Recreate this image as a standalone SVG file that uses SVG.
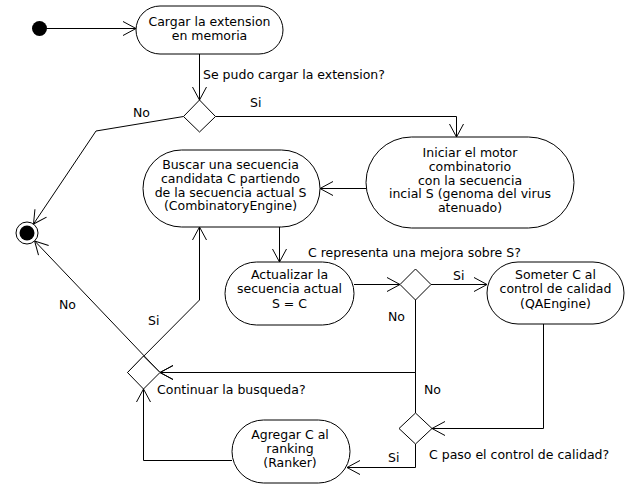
<svg xmlns="http://www.w3.org/2000/svg" width="638" height="503" viewBox="0 0 638 503">
<defs>
<marker id="arr" markerUnits="userSpaceOnUse" markerWidth="20" markerHeight="20" viewBox="-15 -10 20 20" refX="0" refY="0" orient="auto" overflow="visible">
<path d="M-13,-7 L0,0 L-13,7" fill="none" stroke="#000" stroke-width="1"/>
</marker>
</defs>
<style>
text{font-family:"DejaVu Sans","Liberation Sans",sans-serif;font-size:12.5px;fill:#000}
.c{text-anchor:middle}
.n{fill:#fff;stroke:#000;stroke-width:1}
.e{fill:none;stroke:#000;stroke-width:1;marker-end:url(#arr)}
</style>
<rect width="638" height="503" fill="#fff"/>
<g id="connectors">
<path class="e" d="M47,28.5 L136,28.5"/>
<path class="e" d="M199.5,54 L199.5,100"/>
<path class="e" d="M215.5,116.5 L456.5,116.5 L456.5,137"/>
<path class="e" d="M183.5,116.5 L96,131 L33.5,224"/>
<path class="e" d="M366,188.5 L320,188.5"/>
<path class="e" d="M279.5,227 L279.5,262"/>
<path class="e" d="M354,284.5 L400,284.5"/>
<path class="e" d="M431,284.5 L487,284.5"/>
<path class="e" d="M415.5,300 L415.5,372.5 L160,372.5"/>
<path class="e" d="M415.5,413 L415.5,372.5 L160,372.5"/>
<path class="e" d="M543.5,324 L543.5,428.5 L432,428.5"/>
<path class="e" d="M415.5,444 L415.5,467.5 L347,467.5"/>
<path class="e" d="M232,460.5 L143.5,460.5 L143.5,389"/>
<path class="e" d="M160,372.5 L34.6,240.9"/>
<path class="e" d="M127.5,372.5 L199.5,300 L199.5,227"/>
<text x="203" y="79">Se pudo cargar la extension?</text>
<text x="250" y="107">Si</text>
<text x="133" y="117">No</text>
<text x="308" y="256.5">C representa una mejora sobre S?</text>
<text x="453" y="280">Si</text>
<text x="388" y="321">No</text>
<text x="424" y="394">No</text>
<text x="157" y="394">Continuar la busqueda?</text>
<text x="429" y="459">C paso el control de calidad?</text>
<text x="388" y="462">Si</text>
<text x="59" y="309">No</text>
<text x="148" y="325">Si</text>
</g>
<g id="start"><circle cx="39.5" cy="28.5" r="7.5" fill="#000"/></g>
<g id="end"><circle cx="27" cy="233" r="11" fill="#fff" stroke="#000"/><circle cx="27" cy="233" r="7.5" fill="#000"/></g>
<g id="cargar"><rect class="n" x="136" y="6" width="147" height="48" rx="24"/>
<text class="c" x="209.5" y="26">Cargar la extension</text><text class="c" x="209.5" y="39.5">en memoria</text></g>
<g id="d1"><polygon class="n" points="199.5,100 215.5,116.5 199.5,132 183.5,116.5"/></g>
<g id="iniciar"><rect class="n" x="366" y="137" width="208" height="91" rx="45.5"/>
<text class="c" x="470" y="157.3">Iniciar el motor</text>
<text class="c" x="470" y="171">combinatorio</text>
<text class="c" x="470" y="184.6">con la secuencia</text>
<text class="c" x="470" y="198.2">incial S (genoma del virus</text>
<text class="c" x="470" y="211.8">atenuado)</text></g>
<g id="buscar"><rect class="n" x="143" y="150" width="177" height="77" rx="38.5"/>
<text class="c" x="230.5" y="169.3">Buscar una secuencia</text>
<text class="c" x="230.5" y="183">candidata C partiendo</text>
<text class="c" x="230.5" y="196.5">de la secuencia actual S</text>
<text class="c" x="230.5" y="210.1">(CombinatoryEngine)</text></g>
<g id="actualizar"><rect class="n" x="225" y="262" width="129" height="63" rx="31.5"/>
<text class="c" x="289.5" y="279">Actualizar la</text>
<text class="c" x="289.5" y="293.3">secuencia actual</text>
<text class="c" x="289.5" y="307.6">S = C</text></g>
<g id="d2"><polygon class="n" points="415.5,269 431,284.5 415.5,300 400,284.5"/></g>
<g id="someter"><rect class="n" x="487" y="262" width="137" height="62" rx="31"/>
<text class="c" x="555.5" y="279">Someter C al</text>
<text class="c" x="555.5" y="293.3">control de calidad</text>
<text class="c" x="555.5" y="307.6">(QAEngine)</text></g>
<g id="d3"><polygon class="n" points="415.5,413 432,428.5 415.5,444 399,428.5"/></g>
<g id="agregar"><rect class="n" x="232" y="420" width="118" height="63" rx="31.5"/>
<text class="c" x="290" y="439.3">Agregar C al</text>
<text class="c" x="290" y="453">ranking</text>
<text class="c" x="290" y="466.7">(Ranker)</text></g>
<g id="d4"><polygon class="n" points="143.5,356 160,372.5 143.5,389 127.5,372.5"/></g>
</svg>
